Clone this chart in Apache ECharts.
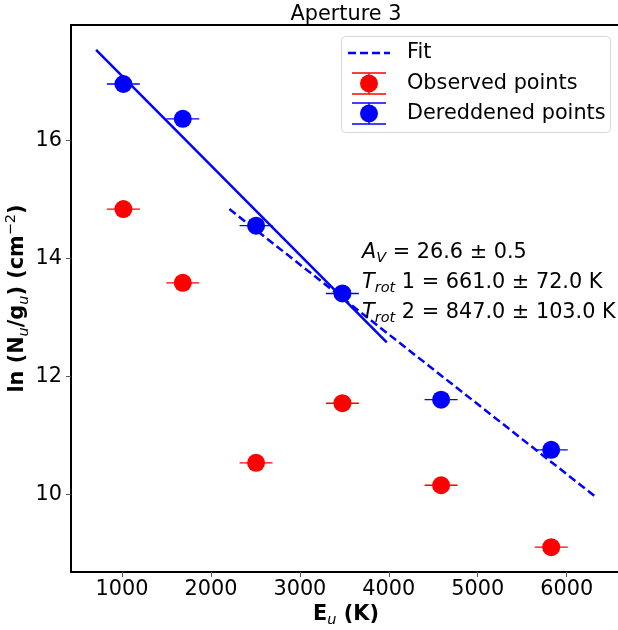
<!DOCTYPE html>
<html>
<head>
<meta charset="utf-8">
<script src="https://cdn.jsdelivr.net/npm/echarts@6/dist/echarts.min.js"></script>
<style>html,body{margin:0;padding:0;background:#fff}#c{width:618px;height:630px}</style>
</head>
<body>
<div id="c"></div>
<script>
const xTicks = [1000, 2000, 3000, 4000, 5000, 6000];
const yTicks = [10, 12, 14, 16];
const xRange = [426, 6611];
const yRange = [8.69, 17.96];
const energies = [1015, 1683, 2507, 3478, 4588, 5826];
const observed = [14.84, 13.59, 10.54, 11.55, 10.16, 9.11];
const dereddened = [16.96, 16.37, 14.56, 13.41, 11.61, 10.76];
const fit1X = [708, 3977];
const fit1Y = [17.54, 12.58];
const fit2X = [2207, 6332];
const fit2Y = [14.84, 9.956];
const titleText = 'Aperture 3';
const legendNames = ['Fit', 'Observed points', 'Dereddened points'];
const annot = ['26.6 ± 0.5', '661.0 ± 72.0 K', '847.0 ± 103.0 K'];

const FF = 'DejaVu Sans';
const FS = 20.8;
const LF = FS + 'px "DejaVu Sans"';
const chart = echarts.init(document.getElementById('c'), null, {renderer: 'canvas'});

const pts = (ys) => energies.map((x, i) => [x, ys[i]]);
const line = (xs, ys) => xs.map((x, i) => [x, ys[i]]);

function capSeries(ys, color) {
  return {
    type: 'custom', data: pts(ys), z: 3, silent: true,
    renderItem: (params, api) => {
      const p = api.coord([api.value(0), api.value(1)]);
      return {type: 'line', shape: {x1: p[0] - 16.5, y1: p[1], x2: p[0] + 16.5, y2: p[1]},
        style: {stroke: color, lineWidth: 1.3}};
    }
  };
}

const sub = {fontFamily: FF, fontSize: 14.5, fontStyle: 'italic', fontWeight: 'normal', lineHeight: 14.5, verticalAlign: 'bottom'};
const annSub = {fontFamily: FF, fontSize: 14.5, fontStyle: 'italic', fill: '#000', lineHeight: 14.5, verticalAlign: 'bottom'};
const annRich = {
  i: {fontFamily: FF, fontSize: FS, fontStyle: 'italic', fill: '#000', lineHeight: 25},
  s: annSub,
  n: {fontFamily: FF, fontSize: FS, fill: '#000', lineHeight: 25}
};

chart.setOption({
  animation: false,
  textStyle: {fontFamily: FF},
  grid: {left: 71, right: -3, top: 25, bottom: 58, containLabel: false, outerBoundsMode: 'none',
    show: true, borderColor: '#000', borderWidth: 2, backgroundColor: 'transparent'},
  xAxis: {
    type: 'value', min: xRange[0], max: xRange[1],
    axisLine: {show: false}, splitLine: {show: false},
    axisTick: {show: true, length: 5, customValues: xTicks, lineStyle: {color: '#555', width: 1}},
    axisLabel: {customValues: xTicks, fontSize: FS, color: '#000', fontFamily: FF, margin: 7,
      formatter: (v) => String(v)},
    name: '{b|E}{s|u}{b| (K)}', nameLocation: 'middle', nameGap: 30, nameMoveOverlap: false,
    nameTextStyle: {rich: {
      b: {fontFamily: FF, fontSize: FS, fontWeight: 'bold', color: '#000', lineHeight: 26},
      s: Object.assign({color: '#000'}, sub)
    }}
  },
  yAxis: {
    type: 'value', min: yRange[0], max: yRange[1],
    axisLine: {show: false}, splitLine: {show: false},
    axisTick: {show: true, length: 5, customValues: yTicks, lineStyle: {color: '#555', width: 1}},
    axisLabel: {customValues: yTicks, fontSize: FS, color: '#000', fontFamily: FF, margin: 9,
      formatter: (v) => String(v)},
    name: '{b|ln (N}{s|u}{b|/g}{s|u}{b|) (cm}{p|−2}{b|)}', nameLocation: 'middle', nameGap: 39, nameRotate: 90,
    nameMoveOverlap: false,
    nameTextStyle: {rich: {
      b: {fontFamily: FF, fontSize: FS, fontWeight: 'bold', color: '#000', lineHeight: 28},
      s: Object.assign({color: '#000'}, sub),
      p: {fontFamily: FF, fontSize: 14.5, fontWeight: 'normal', color: '#000', lineHeight: 14.5, verticalAlign: 'top'}
    }}
  },
  series: [
    {type: 'line', data: line(fit1X, fit1Y), symbol: 'none', z: 2,
      lineStyle: {color: '#0000ff', width: 2.5, type: 'solid'}},
    {type: 'line', data: line(fit2X, fit2Y), symbol: 'none', z: 2,
      lineStyle: {color: '#0000ff', width: 2.5, type: [8, 4]}},
    capSeries(observed, '#ff0000'),
    capSeries(dereddened, '#0000ff'),
    {type: 'scatter', data: pts(observed), symbol: 'circle', symbolSize: 18, z: 4,
      itemStyle: {color: '#ff0000', opacity: 1}},
    {type: 'scatter', data: pts(dereddened), symbol: 'circle', symbolSize: 18, z: 4,
      itemStyle: {color: '#0000ff', opacity: 1}}
  ],
  graphic: [
    {type: 'text', x: 346, y: 15, z: 10, style: {text: titleText, fill: '#000', font: LF, align: 'center', verticalAlign: 'middle'}},
    {type: 'group', z: 20, children: [
      {type: 'rect', shape: {x: 341.5, y: 36.5, width: 269, height: 96, r: 4}, style: {fill: 'rgba(255,255,255,0.8)', stroke: '#d6d6d6', lineWidth: 1}},
      {type: 'line', shape: {x1: 348, y1: 53, x2: 390, y2: 53}, style: {stroke: '#0000ff', lineWidth: 2.5, lineDash: [8, 4]}},
      {type: 'text', x: 407, y: 53, style: {text: legendNames[0], fill: '#000', font: LF, verticalAlign: 'middle'}},
      {type: 'line', shape: {x1: 369, y1: 73, x2: 369, y2: 94}, style: {stroke: '#ff0000', lineWidth: 1.3}},
      {type: 'line', shape: {x1: 352, y1: 73, x2: 386, y2: 73}, style: {stroke: '#ff0000', lineWidth: 1.3}},
      {type: 'line', shape: {x1: 352, y1: 94, x2: 386, y2: 94}, style: {stroke: '#ff0000', lineWidth: 1.3}},
      {type: 'circle', shape: {cx: 369, cy: 83.5, r: 9}, style: {fill: '#ff0000'}},
      {type: 'text', x: 407, y: 83.5, style: {text: legendNames[1], fill: '#000', font: LF, verticalAlign: 'middle'}},
      {type: 'line', shape: {x1: 369, y1: 103, x2: 369, y2: 124}, style: {stroke: '#0000ff', lineWidth: 1.3}},
      {type: 'line', shape: {x1: 352, y1: 103, x2: 386, y2: 103}, style: {stroke: '#0000ff', lineWidth: 1.3}},
      {type: 'line', shape: {x1: 352, y1: 124, x2: 386, y2: 124}, style: {stroke: '#0000ff', lineWidth: 1.3}},
      {type: 'circle', shape: {cx: 369, cy: 113.5, r: 9}, style: {fill: '#0000ff'}},
      {type: 'text', x: 407, y: 113.5, style: {text: legendNames[2], fill: '#000', font: LF, verticalAlign: 'middle'}}
    ]},
    {type: 'text', x: 362, y: 253, z: 10, style: {
      text: '{i|A}{s|V}{n| = ' + annot[0] + '}', verticalAlign: 'middle', rich: annRich}},
    {type: 'text', x: 362, y: 283, z: 10, style: {
      text: '{i|T}{s|rot}{n| 1 = ' + annot[1] + '}', verticalAlign: 'middle', rich: annRich}},
    {type: 'text', x: 362, y: 313, z: 10, style: {
      text: '{i|T}{s|rot}{n| 2 = ' + annot[2] + '}', verticalAlign: 'middle', rich: annRich}}
  ]
});
</script>
</body>
</html>
